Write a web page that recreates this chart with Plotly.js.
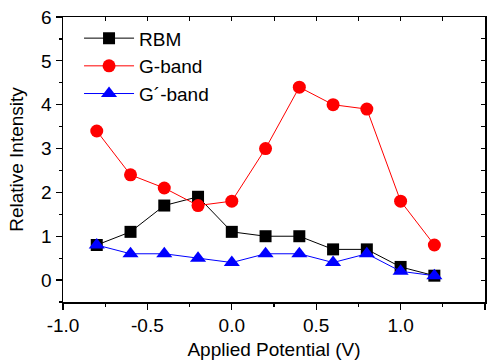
<!DOCTYPE html>
<html><head><meta charset="utf-8">
<script src="https://cdn.plot.ly/plotly-3.0.1.min.js"></script>
<style>html,body{margin:0;padding:0;background:#fff}#chart{width:498px;height:360px}</style>
</head><body><div id="chart"></div>
<script>
const potential = [-0.8, -0.6, -0.4, -0.2, 0.0, 0.2, 0.4, 0.6, 0.8, 1.0, 1.2];
const rbm   = [0.8, 1.1, 1.7, 1.9, 1.1, 1.0, 1.0, 0.7, 0.7, 0.3, 0.1];
const gband = [3.4, 2.4, 2.1, 1.7, 1.8, 3.0, 4.4, 4.0, 3.9, 1.8, 0.8];
const gpband = [0.8, 0.6, 0.6, 0.5, 0.4, 0.6, 0.6, 0.4, 0.6, 0.2, 0.1];
const names = ['RBM', 'G-band', 'G\u00B4-band'];
const xTickVals = [-1.0, -0.5, 0.0, 0.5, 1.0, 1.5];
const xTickText = ['-1.0', '-0.5', '0.0', '0.5', '1.0', '1.5'];

const font = {family: 'Liberation Sans, Arial, sans-serif', color: '#000'};
const fs = 19;
const traces = [
  {x: potential, y: rbm, name: names[0], mode: 'lines+markers', type: 'scatter',
   line: {color: '#000', width: 1}, marker: {symbol: 'square', size: 12, color: '#000'}},
  {x: potential, y: gband, name: names[1], mode: 'lines+markers', type: 'scatter',
   line: {color: '#ff0000', width: 1}, marker: {symbol: 'circle', size: 13, color: '#ff0000'}},
  {x: potential, y: gpband, name: names[2], mode: 'lines+markers', type: 'scatter',
   line: {color: '#0000ff', width: 1}, marker: {symbol: 'triangle-up', size: 14, color: '#0000ff'}},
  {x: [], y: [], xaxis: 'x2', yaxis: 'y2', showlegend: false, hoverinfo: 'skip', type: 'scatter'}
];

const layout = {
  width: 498, height: 360,
  margin: {l: 63, r: 13, t: 17, b: 58},
  paper_bgcolor: '#fff', plot_bgcolor: '#fff',
  showlegend: true,
  legend: {x: 0.038, y: 0.992, xanchor: 'left', yanchor: 'top', bgcolor: 'rgba(0,0,0,0)',
           font: Object.assign({size: fs}, font), itemwidth: 50, tracegroupgap: 0},
  xaxis: {range: [-1.0, 1.5], tickmode: 'array', tickvals: xTickVals, ticktext: xTickText,
          ticks: 'outside', ticklen: 6, tickwidth: 1.2, tickcolor: '#000',
          minor: {dtick: 0.25, tick0: 0, ticks: 'outside', ticklen: 3, tickcolor: '#000'},
          showline: true, linecolor: '#000', linewidth: 1.5, showgrid: false, zeroline: false,
          tickfont: Object.assign({size: fs}, font),
          title: {text: 'Applied Potential (V)', font: Object.assign({size: fs}, font), standoff: 14}},
  yaxis: {range: [-0.5, 6], dtick: 1, tick0: 0,
          ticks: 'outside', ticklen: 6, tickwidth: 1.2, tickcolor: '#000',
          minor: {dtick: 0.5, ticks: 'outside', ticklen: 3, tickcolor: '#000'},
          showline: true, linecolor: '#000', linewidth: 1.5, showgrid: false, zeroline: false,
          tickfont: Object.assign({size: fs}, font),
          title: {text: 'Relative Intensity', font: Object.assign({size: fs}, font), standoff: 12}},
  xaxis2: {overlaying: 'x', side: 'top', range: [-1.0, 1.5], dtick: 0.25, tick0: 0,
           ticks: 'inside', ticklen: 4, tickcolor: '#000', showticklabels: false,
           showline: true, linecolor: '#000', linewidth: 1.5, showgrid: false, zeroline: false},
  yaxis2: {overlaying: 'y', side: 'right', range: [-0.5, 6], dtick: 0.5, tick0: 0,
           ticks: 'inside', ticklen: 4, tickcolor: '#000', showticklabels: false,
           showline: true, linecolor: '#000', linewidth: 1.5, showgrid: false, zeroline: false}
};
Plotly.newPlot('chart', traces, layout, {displayModeBar: false, staticPlot: true});
</script></body></html>
